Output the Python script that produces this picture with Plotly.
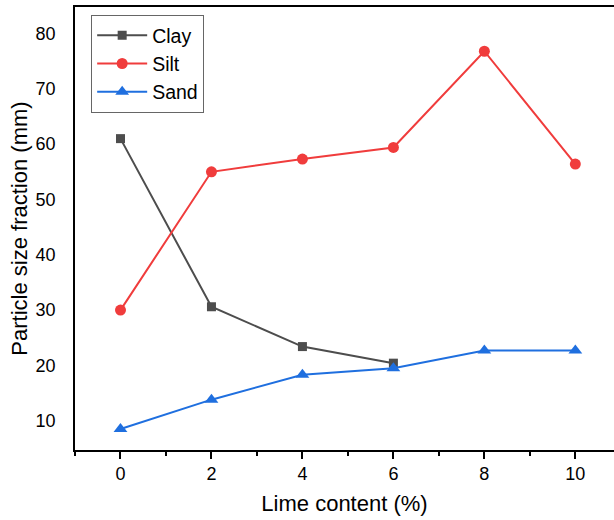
import plotly.graph_objects as go

lime = [0, 2, 4, 6, 8, 10]
clay_x = [0, 2, 4, 6]
clay = [61.0, 30.6, 23.4, 20.4]
silt = [30.0, 55.0, 57.3, 59.4, 76.8, 56.4]
sand = [8.5, 13.8, 18.3, 19.5, 22.7, 22.7]

FONT = "Liberation Sans, Arial, sans-serif"

fig = go.Figure()
fig.add_trace(go.Scatter(x=clay_x, y=clay, name="Clay", mode="lines+markers",
                         line=dict(color="#4d4d4d", width=2),
                         marker=dict(symbol="square", size=9, color="#4d4d4d")))
fig.add_trace(go.Scatter(x=lime, y=silt, name="Silt", mode="lines+markers",
                         line=dict(color="#f03c3c", width=2),
                         marker=dict(symbol="circle", size=11, color="#f03c3c")))
fig.add_trace(go.Scatter(x=lime, y=sand, name="Sand", mode="lines+markers",
                         line=dict(color="#1f6fdf", width=2),
                         marker=dict(symbol="triangle-up", size=12, color="#1f6fdf")))

fig.update_layout(
    width=614, height=520,
    margin=dict(l=75, r=0, t=7, b=70),
    paper_bgcolor="white", plot_bgcolor="white",
    font=dict(family=FONT, color="black"),
    showlegend=True,
    legend=dict(x=0.03, y=0.982, xanchor="left", yanchor="top",
                bordercolor="#666666", borderwidth=1, bgcolor="white",
                font=dict(size=19.5, family=FONT), tracegroupgap=0,
                itemwidth=50),
)
fig.update_xaxes(
    range=[-1, 10.85], tickvals=[0, 2, 4, 6, 8, 10],
    showgrid=False, zeroline=False,
    showline=True, linecolor="black", linewidth=1.5, mirror=True,
    ticks="outside", ticklen=7, tickwidth=1.5, tickcolor="black",
    minor=dict(ticks="outside", ticklen=4, tickwidth=1.5, tickcolor="black", dtick=1, tick0=1),
    tickfont=dict(size=18, family=FONT),
    title=dict(text="Lime content (%)", font=dict(size=22, family=FONT), standoff=12),
)
fig.update_yaxes(
    range=[4.7, 84.8], tickvals=[10, 20, 30, 40, 50, 60, 70, 80],
    showgrid=False, zeroline=False,
    showline=True, linecolor="black", linewidth=1.5, mirror=False,
    ticks="", ticklabelstandoff=14,
    tickfont=dict(size=18, family=FONT),
    title=dict(text="Particle size fraction (mm)", font=dict(size=22, family=FONT), standoff=2),
)

fig.write_html("out.html")
